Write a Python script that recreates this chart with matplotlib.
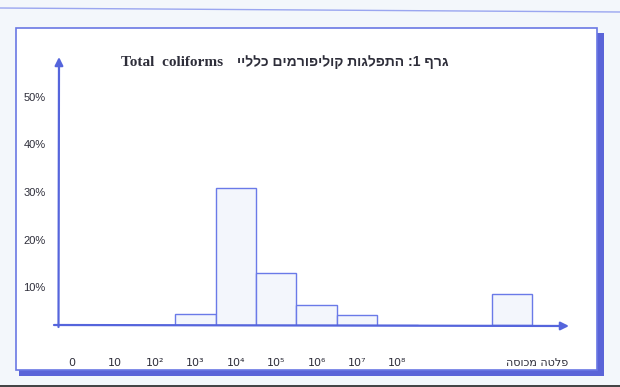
import matplotlib
matplotlib.use("Agg")
import matplotlib.pyplot as plt
from matplotlib.patches import Rectangle
from matplotlib.transforms import ScaledTranslation
import numpy as np

# ---- data ----
categories = ['0', '10', '10²', '10³', '10⁴', '10⁵', '10⁶', '10⁷', '10⁸', 'פלטה מכוסה']
values = [0, 0, 0, 2.3, 28.8, 10.9, 4.2, 2.1, 0, 6.5]
ytick_vals = [10, 20, 30, 40, 50]
ytick_labels = ['10%', '20%', '30%', '40%', '50%']
title_en = 'Total  coliforms'
title_he = 'גרף 1: התפלגות קוליפורמים כלליי'

def vis(s):
    # visual order for right-to-left text
    return s[::-1] if any('\u0590' <= c <= '\u05ff' for c in s) else s

W, H = 620, 387
fig = plt.figure(figsize=(W / 100, H / 100), dpi=100)
fig.patch.set_facecolor('#f3f7fb')

def fx(px):
    return px / W

def fy(py):
    return 1 - py / H

blue = '#5565dc'
# shadow
fig.patches.append(Rectangle((fx(19), fy(376)), fx(604 - 19), (376 - 33) / H,
                             transform=fig.transFigure, facecolor='#5a64d8', edgecolor='none', zorder=0))
fig.patches.append(Rectangle((fx(16), fy(370)), fx(597 - 16), (370 - 28) / H,
                             transform=fig.transFigure, facecolor='white', edgecolor='#6a78e4',
                             linewidth=1.2, zorder=1))
# top scan line and bottom edge
fig.lines.append(plt.Line2D([0, 1], [fy(8), fy(12)], transform=fig.transFigure,
                            color='#9aa6f0', linewidth=1.0))
fig.lines.append(plt.Line2D([0, 1], [fy(386), fy(386)], transform=fig.transFigure,
                            color='#222222', linewidth=1.2))

# axes: x from 54 to 569 px, y from 325 (value 0) to 57 px
ax_left, ax_right, ax_bottom, ax_top = 54, 569, 325, 57
ax = fig.add_axes([fx(ax_left), fy(ax_bottom), fx(ax_right - ax_left), (ax_bottom - ax_top) / H])
ax.set_facecolor('none')
ax.patch.set_alpha(0)
ax.set_zorder(2)

slot = 40.4
first_center = 74.3
positions = np.r_[np.arange(9), 10.83]
ax.set_xlim((ax_left - first_center) / slot, (ax_right - first_center) / slot)
px_per_unit = 4.75
ax.set_ylim(0, (ax_bottom - ax_top) / px_per_unit)

ax.bar(positions, values, width=1.0, facecolor='#f3f6fc', edgecolor='#6a7ae8', linewidth=1.0, zorder=2)

for s in ax.spines.values():
    s.set_visible(False)

ax.set_yticks(ytick_vals)
ax.set_yticklabels(ytick_labels, fontsize=8, color='#2e2e3a', family=['Liberation Sans', 'DejaVu Sans'])
ax.tick_params(axis='y', length=0, pad=6)
off_y = ScaledTranslation(0, -9.5 / 100, fig.dpi_scale_trans)
for lbl in ax.get_yticklabels():
    lbl.set_transform(lbl.get_transform() + off_y)

ax.set_xticks(positions)
ax.set_xticklabels([vis(c) for c in categories], fontsize=8, color='#2e2e3a',
                   family=['DejaVu Sans'])
ax.tick_params(axis='x', length=0, pad=24)
xl = ax.get_xticklabels()
xl[-1].set_transform(xl[-1].get_transform() + ScaledTranslation(25 / 100, 0, fig.dpi_scale_trans))
xl[0].set_transform(xl[0].get_transform() + ScaledTranslation(-3 / 100, 0, fig.dpi_scale_trans))

# axis arrows (figure pixels, origin bottom-left)
ax.annotate('', xy=(569, H - 326), xytext=(54, H - 325), xycoords='figure pixels',
            textcoords='figure pixels',
            arrowprops=dict(arrowstyle='-|>', color=blue, lw=1.6, mutation_scale=12,
                            shrinkA=0, shrinkB=0), zorder=5, annotation_clip=False)
ax.annotate('', xy=(59, H - 57), xytext=(58.5, H - 327), xycoords='figure pixels',
            textcoords='figure pixels',
            arrowprops=dict(arrowstyle='-|>', color=blue, lw=1.6, mutation_scale=12,
                            shrinkA=0, shrinkB=0), zorder=5, annotation_clip=False)

# titles
fig.text(fx(121), fy(62), title_en, fontsize=11, fontweight='bold', family='Liberation Serif',
         color='#2e2e3a', ha='left', va='center')
fig.text(fx(237), fy(62), vis(title_he), fontsize=10, fontweight='bold',
         family=['Liberation Sans', 'DejaVu Sans'], color='#2e2e3a', ha='left', va='center')

fig.savefig('out.png', dpi=100, facecolor=fig.get_facecolor())
